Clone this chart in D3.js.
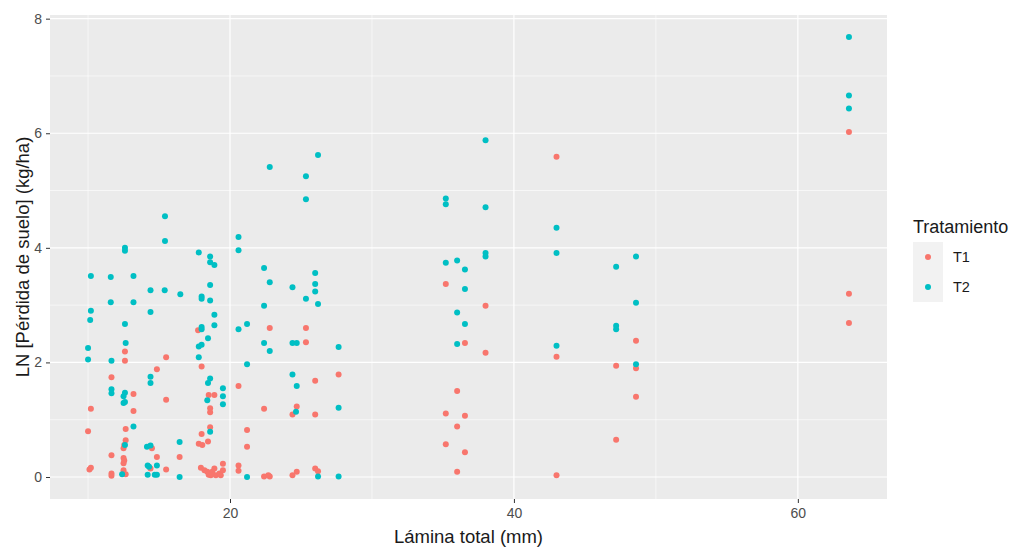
<!DOCTYPE html>
<html>
<head>
<meta charset="utf-8">
<script src="https://cdn.jsdelivr.net/npm/d3@7"></script>
<style>
html,body{margin:0;padding:0;background:#fff;}
svg{display:block;font-family:"Liberation Sans",Arial,sans-serif;}
</style>
</head>
<body>
<svg id="chart" width="1016" height="548"></svg>
<script>
const seriesNames = ["T1", "T2"];
const seriesColors = ["#F8766D", "#00BFC4"];
const xTicks = [20, 40, 60];
const yTicks = [0, 2, 4, 6, 8];

const t1x = [10.2,10.0,10.1,10.2, 11.65,11.65,11.65,11.65,
  12.6,12.6,12.65,12.65,12.55,12.5,12.5,12.55,12.5,12.5,12.65,
  13.2,13.2, 14.5,14.4, 14.85,14.85, 15.5,15.5,15.5, 16.45,
  17.75,18.0,18.0,17.8,18.05,18.45,
  18.5,18.9,18.6,18.6,18.6,
  17.95,18.2,18.4,18.5,18.75,18.9,19.0,19.25,19.5,19.5,19.35,18.65,
  20.6,20.6,20.6, 21.2,21.2, 22.4,22.4,22.7,22.8, 22.8,
  24.7,24.4,24.4,24.7, 25.35,25.35, 26.0,26.0,26.0,26.2, 27.65,
  35.2,35.2,35.2, 36.0,36.0,36.0, 36.55,36.55,36.55, 38.0,38.0,
  43.0,43.0,43.0, 47.2,47.2, 48.6,48.6,48.6, 63.6,63.6,63.6];
const t1y = [1.19,0.8,0.13,0.16, 1.74,0.38,0.06,0.02,
  2.19,2.03,0.84,0.64,0.56,0.5,0.33,0.29,0.24,0.12,0.05,
  1.45,1.15, 0.5,0.15, 1.88,0.35, 2.09,1.35,0.13, 0.35,
  2.56,1.93,0.75,0.58,0.56,0.62,
  1.43,1.43,1.2,1.13,0.87,
  0.16,0.12,0.09,0.04,0.09,0.15,0.03,0.06,0.23,0.12,0.03,0.03,
  1.59,0.2,0.11, 0.82,0.53, 1.19,0.01,0.03,0.01, 2.6,
  1.23,1.09,0.03,0.09, 2.6,2.35, 1.68,1.09,0.15,0.1, 1.79,
  3.37,1.11,0.57, 1.5,0.88,0.09, 2.34,1.07,0.43, 2.99,2.17,
  5.59,2.1,0.03, 1.94,0.65, 2.38,1.9,1.4, 6.02,3.2,2.69];

const t2x = [10.2,10.2,10.15,10.0,10.0, 11.6,11.6,11.65,11.65,11.65,
  12.6,12.6,12.6,12.65,12.5,12.6,12.5,12.6,12.6,12.4,
  13.2,13.2,13.2,
  14.4,14.4,14.4,14.4,14.15,14.4,14.2,14.3,14.85,14.2,14.7,14.85,
  15.42,15.42,15.4, 16.5,16.45,16.45,
  17.8,18.0,18.0,18.0,18.0,17.8,18.0,17.8,18.45,
  18.6,18.6,18.9,18.6,18.6,18.9,18.9,18.6,18.45,18.4,18.6,
  19.5,19.5,19.5, 20.6,20.6,20.6, 21.2,21.2,21.2,
  22.4,22.4,22.4, 22.8,22.8,22.8,
  24.4,24.4,24.7,24.4,24.7,24.65, 25.35,25.35,25.35,
  26.2,26.0,26.0,26.0,26.2,26.2, 27.65,27.65,27.65,
  35.2,35.2,35.2, 36.0,36.0,36.0, 36.55,36.55,36.55,
  38.0,38.0,38.0,38.0, 43.0,43.0,43.0, 47.2,47.2,47.2, 48.6,48.6,48.6,
  63.6,63.6,63.6];
const t2y = [3.51,2.9,2.74,2.25,2.05, 3.49,3.05,2.03,1.53,1.46,
  4.0,3.95,2.67,2.34,1.41,1.47,1.29,1.31,0.56,0.05,
  3.51,3.05,0.88,
  3.26,2.88,1.75,1.64,0.53,0.55,0.2,0.18,0.2,0.04,0.04,0.04,
  4.55,4.12,3.26, 3.19,0.61,0.0,
  3.92,3.15,3.11,2.62,2.58,2.28,2.31,2.09,2.42,
  3.85,3.75,3.7,3.35,3.08,2.83,2.65,1.72,1.64,1.34,0.79,
  1.55,1.41,1.27, 4.19,3.96,2.58, 2.67,1.97,0.0,
  3.65,2.99,2.34, 5.41,3.4,2.2,
  3.31,2.34,2.34,1.79,1.59,1.14, 5.25,4.85,3.11,
  5.62,3.56,3.37,3.24,3.02,0.01, 2.27,1.21,0.01,
  4.86,4.76,3.74, 3.78,2.87,2.32, 3.62,3.28,2.67,
  5.88,4.71,3.91,3.85, 4.35,3.91,2.29, 3.67,2.64,2.58, 3.85,3.04,1.97,
  7.68,6.66,6.43];

const svg = d3.select("#chart");
const panel = {left: 50, right: 887, top: 15, bottom: 499};

const allX = t1x.concat(t2x), allY = t1y.concat(t2y);
const xmin = d3.min(allX), xmax = d3.max(allX);
const ymin = d3.min(allY), ymax = d3.max(allY);
const xpad = (xmax - xmin) * 0.05, ypad = (ymax - ymin) * 0.05;
const x = d3.scaleLinear().domain([xmin - xpad, xmax + xpad]).range([panel.left, panel.right]);
const y = d3.scaleLinear().domain([ymin - ypad, ymax + ypad]).range([panel.bottom, panel.top]);

svg.append("rect").attr("x", panel.left).attr("y", panel.top)
  .attr("width", panel.right - panel.left).attr("height", panel.bottom - panel.top)
  .attr("fill", "#EBEBEB");

const xMinor = [10, 30, 50];
const yMinor = [1, 3, 5, 7];
const grid = svg.append("g");
grid.selectAll(".xm").data(xMinor).join("line")
  .attr("x1", d => x(d)).attr("x2", d => x(d)).attr("y1", panel.top).attr("y2", panel.bottom)
  .attr("stroke", "#fff").attr("stroke-width", 0.6);
grid.selectAll(".ym").data(yMinor).join("line")
  .attr("y1", d => y(d)).attr("y2", d => y(d)).attr("x1", panel.left).attr("x2", panel.right)
  .attr("stroke", "#fff").attr("stroke-width", 0.6);
grid.selectAll(".xM").data(xTicks).join("line")
  .attr("x1", d => x(d)).attr("x2", d => x(d)).attr("y1", panel.top).attr("y2", panel.bottom)
  .attr("stroke", "#fff").attr("stroke-width", 1.2);
grid.selectAll(".yM").data(yTicks).join("line")
  .attr("y1", d => y(d)).attr("y2", d => y(d)).attr("x1", panel.left).attr("x2", panel.right)
  .attr("stroke", "#fff").attr("stroke-width", 1.2);

const xAxis = d3.axisBottom(x).tickValues(xTicks).tickSize(4).tickPadding(5);
const yAxis = d3.axisLeft(y).tickValues(yTicks).tickSize(4).tickPadding(4);
const gx = svg.append("g").attr("transform", `translate(0,${panel.bottom})`).call(xAxis);
const gy = svg.append("g").attr("transform", `translate(${panel.left},0)`).call(yAxis);
[gx, gy].forEach(g => {
  g.select(".domain").remove();
  g.selectAll(".tick line").attr("stroke", "#333").attr("stroke-width", 1);
  g.selectAll(".tick text").attr("fill", "#4D4D4D").attr("font-size", 14)
    .attr("font-family", "Liberation Sans, Arial, sans-serif");
});

const series = [
  {name: seriesNames[0], xs: t1x, ys: t1y, color: seriesColors[0]},
  {name: seriesNames[1], xs: t2x, ys: t2y, color: seriesColors[1]}
];
series.forEach(s => {
  const pts = s.xs.map((v, i) => [v, s.ys[i]]);
  svg.append("g").selectAll("circle").data(pts).join("circle")
    .attr("cx", d => x(d[0])).attr("cy", d => y(d[1])).attr("r", 3)
    .attr("fill", s.color);
});

svg.append("text").attr("x", (panel.left + panel.right) / 2).attr("y", 543)
  .attr("text-anchor", "middle").attr("font-size", 18.5).attr("fill", "#1a1a1a")
  .text("Lámina total (mm)");
svg.append("text").attr("transform", `translate(29,${(panel.top + panel.bottom) / 2}) rotate(-90)`)
  .attr("text-anchor", "middle").attr("font-size", 18.5).attr("fill", "#1a1a1a")
  .text("LN [Pérdida de suelo] (kg/ha)");

const lg = svg.append("g").attr("transform", "translate(913,0)");
lg.append("text").attr("x", 0).attr("y", 233).attr("font-size", 18).attr("fill", "#1a1a1a")
  .text("Tratamiento");
series.forEach((s, i) => {
  const cy = 257 + i * 30;
  lg.append("rect").attr("x", 0).attr("y", cy - 15).attr("width", 30).attr("height", 30)
    .attr("fill", "#F2F2F2");
  lg.append("circle").attr("cx", 15).attr("cy", cy).attr("r", 3).attr("fill", s.color);
  lg.append("text").attr("x", 40).attr("y", cy + 5).attr("font-size", 14.5).attr("fill", "#1a1a1a")
    .text(s.name);
});
</script>
</body>
</html>
